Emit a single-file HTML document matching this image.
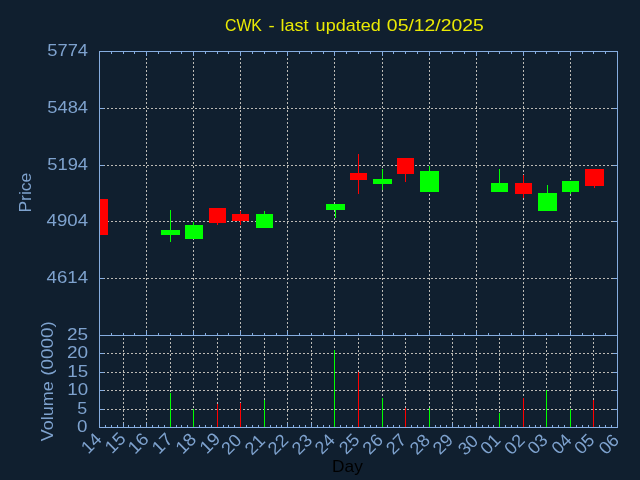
<!DOCTYPE html>
<html><head><meta charset="utf-8"><title>CWK</title>
<style>html,body{margin:0;padding:0;background:#101f2f;width:640px;height:480px;overflow:hidden}svg{display:block}</style>
</head><body>
<svg width="640" height="480" viewBox="0 0 640 480">
<rect x="0" y="0" width="640" height="480" fill="#101f2f"/>
<g stroke="#bcbab5" stroke-width="1" stroke-dasharray="2 2" shape-rendering="crispEdges"><line x1="146.5" y1="336" x2="146.5" y2="51"/><line x1="193.5" y1="336" x2="193.5" y2="51"/><line x1="240.5" y1="336" x2="240.5" y2="51"/><line x1="287.5" y1="336" x2="287.5" y2="51"/><line x1="334.5" y1="336" x2="334.5" y2="51"/><line x1="382.5" y1="336" x2="382.5" y2="51"/><line x1="429.5" y1="336" x2="429.5" y2="51"/><line x1="476.5" y1="336" x2="476.5" y2="51"/><line x1="523.5" y1="336" x2="523.5" y2="51"/><line x1="570.5" y1="336" x2="570.5" y2="51"/><line x1="99" y1="108.5" x2="617" y2="108.5"/><line x1="99" y1="165.5" x2="617" y2="165.5"/><line x1="99" y1="221.5" x2="617" y2="221.5"/><line x1="99" y1="278.5" x2="617" y2="278.5"/><line x1="123.5" y1="428" x2="123.5" y2="335"/><line x1="146.5" y1="428" x2="146.5" y2="335"/><line x1="170.5" y1="428" x2="170.5" y2="335"/><line x1="193.5" y1="428" x2="193.5" y2="335"/><line x1="217.5" y1="428" x2="217.5" y2="335"/><line x1="240.5" y1="428" x2="240.5" y2="335"/><line x1="264.5" y1="428" x2="264.5" y2="335"/><line x1="287.5" y1="428" x2="287.5" y2="335"/><line x1="311.5" y1="428" x2="311.5" y2="335"/><line x1="334.5" y1="428" x2="334.5" y2="335"/><line x1="358.5" y1="428" x2="358.5" y2="335"/><line x1="382.5" y1="428" x2="382.5" y2="335"/><line x1="405.5" y1="428" x2="405.5" y2="335"/><line x1="429.5" y1="428" x2="429.5" y2="335"/><line x1="452.5" y1="428" x2="452.5" y2="335"/><line x1="476.5" y1="428" x2="476.5" y2="335"/><line x1="499.5" y1="428" x2="499.5" y2="335"/><line x1="523.5" y1="428" x2="523.5" y2="335"/><line x1="546.5" y1="428" x2="546.5" y2="335"/><line x1="570.5" y1="428" x2="570.5" y2="335"/><line x1="593.5" y1="428" x2="593.5" y2="335"/><line x1="99" y1="353.5" x2="617" y2="353.5"/><line x1="99" y1="372.5" x2="617" y2="372.5"/><line x1="99" y1="390.5" x2="617" y2="390.5"/><line x1="99" y1="409.5" x2="617" y2="409.5"/></g>
<g stroke="#86ade0" stroke-width="1" shape-rendering="crispEdges"><rect x="99.5" y="51.5" width="518" height="376" fill="none"/><line x1="99" y1="335.5" x2="618" y2="335.5"/><line x1="111.5" y1="52" x2="111.5" y2="54"/><line x1="111.5" y1="335" x2="111.5" y2="333"/><line x1="123.5" y1="52" x2="123.5" y2="54"/><line x1="123.5" y1="335" x2="123.5" y2="333"/><line x1="134.5" y1="52" x2="134.5" y2="54"/><line x1="134.5" y1="335" x2="134.5" y2="333"/><line x1="146.5" y1="52" x2="146.5" y2="56"/><line x1="146.5" y1="335" x2="146.5" y2="331"/><line x1="158.5" y1="52" x2="158.5" y2="54"/><line x1="158.5" y1="335" x2="158.5" y2="333"/><line x1="170.5" y1="52" x2="170.5" y2="54"/><line x1="170.5" y1="335" x2="170.5" y2="333"/><line x1="181.5" y1="52" x2="181.5" y2="54"/><line x1="181.5" y1="335" x2="181.5" y2="333"/><line x1="193.5" y1="52" x2="193.5" y2="56"/><line x1="193.5" y1="335" x2="193.5" y2="331"/><line x1="205.5" y1="52" x2="205.5" y2="54"/><line x1="205.5" y1="335" x2="205.5" y2="333"/><line x1="217.5" y1="52" x2="217.5" y2="54"/><line x1="217.5" y1="335" x2="217.5" y2="333"/><line x1="228.5" y1="52" x2="228.5" y2="54"/><line x1="228.5" y1="335" x2="228.5" y2="333"/><line x1="240.5" y1="52" x2="240.5" y2="56"/><line x1="240.5" y1="335" x2="240.5" y2="331"/><line x1="252.5" y1="52" x2="252.5" y2="54"/><line x1="252.5" y1="335" x2="252.5" y2="333"/><line x1="264.5" y1="52" x2="264.5" y2="54"/><line x1="264.5" y1="335" x2="264.5" y2="333"/><line x1="276.5" y1="52" x2="276.5" y2="54"/><line x1="276.5" y1="335" x2="276.5" y2="333"/><line x1="287.5" y1="52" x2="287.5" y2="56"/><line x1="287.5" y1="335" x2="287.5" y2="331"/><line x1="299.5" y1="52" x2="299.5" y2="54"/><line x1="299.5" y1="335" x2="299.5" y2="333"/><line x1="311.5" y1="52" x2="311.5" y2="54"/><line x1="311.5" y1="335" x2="311.5" y2="333"/><line x1="323.5" y1="52" x2="323.5" y2="54"/><line x1="323.5" y1="335" x2="323.5" y2="333"/><line x1="334.5" y1="52" x2="334.5" y2="56"/><line x1="334.5" y1="335" x2="334.5" y2="331"/><line x1="346.5" y1="52" x2="346.5" y2="54"/><line x1="346.5" y1="335" x2="346.5" y2="333"/><line x1="358.5" y1="52" x2="358.5" y2="54"/><line x1="358.5" y1="335" x2="358.5" y2="333"/><line x1="370.5" y1="52" x2="370.5" y2="54"/><line x1="370.5" y1="335" x2="370.5" y2="333"/><line x1="382.5" y1="52" x2="382.5" y2="56"/><line x1="382.5" y1="335" x2="382.5" y2="331"/><line x1="393.5" y1="52" x2="393.5" y2="54"/><line x1="393.5" y1="335" x2="393.5" y2="333"/><line x1="405.5" y1="52" x2="405.5" y2="54"/><line x1="405.5" y1="335" x2="405.5" y2="333"/><line x1="417.5" y1="52" x2="417.5" y2="54"/><line x1="417.5" y1="335" x2="417.5" y2="333"/><line x1="429.5" y1="52" x2="429.5" y2="56"/><line x1="429.5" y1="335" x2="429.5" y2="331"/><line x1="440.5" y1="52" x2="440.5" y2="54"/><line x1="440.5" y1="335" x2="440.5" y2="333"/><line x1="452.5" y1="52" x2="452.5" y2="54"/><line x1="452.5" y1="335" x2="452.5" y2="333"/><line x1="464.5" y1="52" x2="464.5" y2="54"/><line x1="464.5" y1="335" x2="464.5" y2="333"/><line x1="476.5" y1="52" x2="476.5" y2="56"/><line x1="476.5" y1="335" x2="476.5" y2="331"/><line x1="488.5" y1="52" x2="488.5" y2="54"/><line x1="488.5" y1="335" x2="488.5" y2="333"/><line x1="499.5" y1="52" x2="499.5" y2="54"/><line x1="499.5" y1="335" x2="499.5" y2="333"/><line x1="511.5" y1="52" x2="511.5" y2="54"/><line x1="511.5" y1="335" x2="511.5" y2="333"/><line x1="523.5" y1="52" x2="523.5" y2="56"/><line x1="523.5" y1="335" x2="523.5" y2="331"/><line x1="535.5" y1="52" x2="535.5" y2="54"/><line x1="535.5" y1="335" x2="535.5" y2="333"/><line x1="546.5" y1="52" x2="546.5" y2="54"/><line x1="546.5" y1="335" x2="546.5" y2="333"/><line x1="558.5" y1="52" x2="558.5" y2="54"/><line x1="558.5" y1="335" x2="558.5" y2="333"/><line x1="570.5" y1="52" x2="570.5" y2="56"/><line x1="570.5" y1="335" x2="570.5" y2="331"/><line x1="582.5" y1="52" x2="582.5" y2="54"/><line x1="582.5" y1="335" x2="582.5" y2="333"/><line x1="593.5" y1="52" x2="593.5" y2="54"/><line x1="593.5" y1="335" x2="593.5" y2="333"/><line x1="605.5" y1="52" x2="605.5" y2="54"/><line x1="605.5" y1="335" x2="605.5" y2="333"/><line x1="105.5" y1="427" x2="105.5" y2="425"/><line x1="111.5" y1="427" x2="111.5" y2="425"/><line x1="117.5" y1="427" x2="117.5" y2="425"/><line x1="123.5" y1="427" x2="123.5" y2="423"/><line x1="128.5" y1="427" x2="128.5" y2="425"/><line x1="134.5" y1="427" x2="134.5" y2="425"/><line x1="140.5" y1="427" x2="140.5" y2="425"/><line x1="146.5" y1="427" x2="146.5" y2="423"/><line x1="152.5" y1="427" x2="152.5" y2="425"/><line x1="158.5" y1="427" x2="158.5" y2="425"/><line x1="164.5" y1="427" x2="164.5" y2="425"/><line x1="170.5" y1="427" x2="170.5" y2="423"/><line x1="176.5" y1="427" x2="176.5" y2="425"/><line x1="181.5" y1="427" x2="181.5" y2="425"/><line x1="187.5" y1="427" x2="187.5" y2="425"/><line x1="193.5" y1="427" x2="193.5" y2="423"/><line x1="199.5" y1="427" x2="199.5" y2="425"/><line x1="205.5" y1="427" x2="205.5" y2="425"/><line x1="211.5" y1="427" x2="211.5" y2="425"/><line x1="217.5" y1="427" x2="217.5" y2="423"/><line x1="223.5" y1="427" x2="223.5" y2="425"/><line x1="228.5" y1="427" x2="228.5" y2="425"/><line x1="234.5" y1="427" x2="234.5" y2="425"/><line x1="240.5" y1="427" x2="240.5" y2="423"/><line x1="246.5" y1="427" x2="246.5" y2="425"/><line x1="252.5" y1="427" x2="252.5" y2="425"/><line x1="258.5" y1="427" x2="258.5" y2="425"/><line x1="264.5" y1="427" x2="264.5" y2="423"/><line x1="270.5" y1="427" x2="270.5" y2="425"/><line x1="276.5" y1="427" x2="276.5" y2="425"/><line x1="281.5" y1="427" x2="281.5" y2="425"/><line x1="287.5" y1="427" x2="287.5" y2="423"/><line x1="293.5" y1="427" x2="293.5" y2="425"/><line x1="299.5" y1="427" x2="299.5" y2="425"/><line x1="305.5" y1="427" x2="305.5" y2="425"/><line x1="311.5" y1="427" x2="311.5" y2="423"/><line x1="317.5" y1="427" x2="317.5" y2="425"/><line x1="323.5" y1="427" x2="323.5" y2="425"/><line x1="329.5" y1="427" x2="329.5" y2="425"/><line x1="334.5" y1="427" x2="334.5" y2="423"/><line x1="340.5" y1="427" x2="340.5" y2="425"/><line x1="346.5" y1="427" x2="346.5" y2="425"/><line x1="352.5" y1="427" x2="352.5" y2="425"/><line x1="358.5" y1="427" x2="358.5" y2="423"/><line x1="364.5" y1="427" x2="364.5" y2="425"/><line x1="370.5" y1="427" x2="370.5" y2="425"/><line x1="376.5" y1="427" x2="376.5" y2="425"/><line x1="382.5" y1="427" x2="382.5" y2="423"/><line x1="387.5" y1="427" x2="387.5" y2="425"/><line x1="393.5" y1="427" x2="393.5" y2="425"/><line x1="399.5" y1="427" x2="399.5" y2="425"/><line x1="405.5" y1="427" x2="405.5" y2="423"/><line x1="411.5" y1="427" x2="411.5" y2="425"/><line x1="417.5" y1="427" x2="417.5" y2="425"/><line x1="423.5" y1="427" x2="423.5" y2="425"/><line x1="429.5" y1="427" x2="429.5" y2="423"/><line x1="435.5" y1="427" x2="435.5" y2="425"/><line x1="440.5" y1="427" x2="440.5" y2="425"/><line x1="446.5" y1="427" x2="446.5" y2="425"/><line x1="452.5" y1="427" x2="452.5" y2="423"/><line x1="458.5" y1="427" x2="458.5" y2="425"/><line x1="464.5" y1="427" x2="464.5" y2="425"/><line x1="470.5" y1="427" x2="470.5" y2="425"/><line x1="476.5" y1="427" x2="476.5" y2="423"/><line x1="482.5" y1="427" x2="482.5" y2="425"/><line x1="488.5" y1="427" x2="488.5" y2="425"/><line x1="493.5" y1="427" x2="493.5" y2="425"/><line x1="499.5" y1="427" x2="499.5" y2="423"/><line x1="505.5" y1="427" x2="505.5" y2="425"/><line x1="511.5" y1="427" x2="511.5" y2="425"/><line x1="517.5" y1="427" x2="517.5" y2="425"/><line x1="523.5" y1="427" x2="523.5" y2="423"/><line x1="529.5" y1="427" x2="529.5" y2="425"/><line x1="535.5" y1="427" x2="535.5" y2="425"/><line x1="540.5" y1="427" x2="540.5" y2="425"/><line x1="546.5" y1="427" x2="546.5" y2="423"/><line x1="552.5" y1="427" x2="552.5" y2="425"/><line x1="558.5" y1="427" x2="558.5" y2="425"/><line x1="564.5" y1="427" x2="564.5" y2="425"/><line x1="570.5" y1="427" x2="570.5" y2="423"/><line x1="576.5" y1="427" x2="576.5" y2="425"/><line x1="582.5" y1="427" x2="582.5" y2="425"/><line x1="588.5" y1="427" x2="588.5" y2="425"/><line x1="593.5" y1="427" x2="593.5" y2="423"/><line x1="599.5" y1="427" x2="599.5" y2="425"/><line x1="605.5" y1="427" x2="605.5" y2="425"/><line x1="611.5" y1="427" x2="611.5" y2="425"/><line x1="100" y1="108.5" x2="104" y2="108.5"/><line x1="617" y1="108.5" x2="613" y2="108.5"/><line x1="100" y1="165.5" x2="104" y2="165.5"/><line x1="617" y1="165.5" x2="613" y2="165.5"/><line x1="100" y1="221.5" x2="104" y2="221.5"/><line x1="617" y1="221.5" x2="613" y2="221.5"/><line x1="100" y1="278.5" x2="104" y2="278.5"/><line x1="617" y1="278.5" x2="613" y2="278.5"/><line x1="100" y1="353.5" x2="104" y2="353.5"/><line x1="617" y1="353.5" x2="613" y2="353.5"/><line x1="100" y1="372.5" x2="104" y2="372.5"/><line x1="617" y1="372.5" x2="613" y2="372.5"/><line x1="100" y1="390.5" x2="104" y2="390.5"/><line x1="617" y1="390.5" x2="613" y2="390.5"/><line x1="100" y1="409.5" x2="104" y2="409.5"/><line x1="617" y1="409.5" x2="613" y2="409.5"/></g>
<g shape-rendering="crispEdges"><rect x="100" y="199" width="8" height="36" fill="#ff0000"/><rect x="170" y="210" width="1" height="32" fill="#00ff00"/><rect x="161" y="230" width="19" height="5" fill="#00ff00"/><rect x="193" y="222" width="1" height="17" fill="#00ff00"/><rect x="185" y="225" width="18" height="14" fill="#00ff00"/><rect x="217" y="208" width="1" height="17" fill="#ff0000"/><rect x="209" y="208" width="17" height="15" fill="#ff0000"/><rect x="240" y="211" width="1" height="14" fill="#ff0000"/><rect x="232" y="214" width="17" height="7" fill="#ff0000"/><rect x="264" y="211" width="1" height="17" fill="#00ff00"/><rect x="256" y="214" width="17" height="14" fill="#00ff00"/><rect x="335" y="204" width="1" height="14" fill="#00ff00"/><rect x="326" y="204" width="19" height="6" fill="#00ff00"/><rect x="358" y="154" width="1" height="40" fill="#ff0000"/><rect x="350" y="173" width="17" height="7" fill="#ff0000"/><rect x="382" y="169" width="1" height="21" fill="#00ff00"/><rect x="373" y="179" width="19" height="5" fill="#00ff00"/><rect x="405" y="158" width="1" height="24" fill="#ff0000"/><rect x="397" y="158" width="17" height="16" fill="#ff0000"/><rect x="429" y="166" width="1" height="26" fill="#00ff00"/><rect x="420" y="171" width="19" height="21" fill="#00ff00"/><rect x="499" y="169" width="1" height="23" fill="#00ff00"/><rect x="491" y="183" width="17" height="9" fill="#00ff00"/><rect x="523" y="175" width="1" height="23" fill="#ff0000"/><rect x="515" y="183" width="17" height="11" fill="#ff0000"/><rect x="547" y="185" width="1" height="26" fill="#00ff00"/><rect x="538" y="193" width="19" height="18" fill="#00ff00"/><rect x="570" y="181" width="1" height="13" fill="#00ff00"/><rect x="562" y="181" width="17" height="11" fill="#00ff00"/><rect x="594" y="169" width="1" height="19" fill="#ff0000"/><rect x="585" y="169" width="19" height="17" fill="#ff0000"/></g>
<g shape-rendering="crispEdges"><rect x="170" y="393" width="1" height="34" fill="#00ff00"/><rect x="193" y="409" width="1" height="18" fill="#00ff00"/><rect x="217" y="404" width="1" height="23" fill="#ff0000"/><rect x="240" y="403" width="1" height="24" fill="#ff0000"/><rect x="264" y="400" width="1" height="27" fill="#00ff00"/><rect x="334" y="350" width="1" height="77" fill="#00ff00"/><rect x="358" y="372" width="1" height="55" fill="#ff0000"/><rect x="382" y="398" width="1" height="29" fill="#00ff00"/><rect x="405" y="408" width="1" height="19" fill="#ff0000"/><rect x="429" y="408" width="1" height="19" fill="#00ff00"/><rect x="499" y="413" width="1" height="14" fill="#00ff00"/><rect x="523" y="398" width="1" height="29" fill="#ff0000"/><rect x="546" y="390" width="1" height="37" fill="#00ff00"/><rect x="570" y="409" width="1" height="18" fill="#00ff00"/><rect x="593" y="400" width="1" height="27" fill="#ff0000"/></g>
<g font-family="Liberation Sans, sans-serif" opacity="0.999"><text x="224.96" y="30.80" font-size="17" fill="#ebeb05" textLength="37.00" lengthAdjust="spacingAndGlyphs">CWK</text><text x="268.51" y="30.80" font-size="17" fill="#ebeb05" textLength="6.20" lengthAdjust="spacingAndGlyphs">-</text><text x="280.44" y="30.80" font-size="17" fill="#ebeb05" textLength="28.08" lengthAdjust="spacingAndGlyphs">last</text><text x="315.64" y="30.80" font-size="17" fill="#ebeb05" textLength="65.03" lengthAdjust="spacingAndGlyphs">updated</text><text x="386.87" y="30.80" font-size="17" fill="#ebeb05" textLength="97.00" lengthAdjust="spacingAndGlyphs">05/12/2025</text><text x="47.27" y="56.00" font-size="17" fill="#7fa3cf" textLength="40.77" lengthAdjust="spacingAndGlyphs">5774</text><text x="47.27" y="113.00" font-size="17" fill="#7fa3cf" textLength="40.77" lengthAdjust="spacingAndGlyphs">5484</text><text x="47.27" y="170.00" font-size="17" fill="#7fa3cf" textLength="40.77" lengthAdjust="spacingAndGlyphs">5194</text><text x="46.63" y="226.00" font-size="17" fill="#7fa3cf" textLength="41.42" lengthAdjust="spacingAndGlyphs">4904</text><text x="46.63" y="283.00" font-size="17" fill="#7fa3cf" textLength="41.42" lengthAdjust="spacingAndGlyphs">4614</text><text x="66.95" y="340.00" font-size="17" fill="#7fa3cf" textLength="21.16" lengthAdjust="spacingAndGlyphs">25</text><text x="66.95" y="358.00" font-size="17" fill="#7fa3cf" textLength="21.16" lengthAdjust="spacingAndGlyphs">20</text><text x="67.25" y="377.00" font-size="17" fill="#7fa3cf" textLength="20.84" lengthAdjust="spacingAndGlyphs">15</text><text x="67.25" y="395.00" font-size="17" fill="#7fa3cf" textLength="20.84" lengthAdjust="spacingAndGlyphs">10</text><text x="77.19" y="414.00" font-size="17" fill="#7fa3cf" textLength="9.94" lengthAdjust="spacingAndGlyphs">5</text><text x="76.95" y="432.00" font-size="17" fill="#7fa3cf" textLength="10.43" lengthAdjust="spacingAndGlyphs">0</text><text transform="translate(102.70,440.20) rotate(-45)" x="0" y="0" font-size="17.8" fill="#7fa3cf" text-anchor="end" textLength="20.58" lengthAdjust="spacingAndGlyphs">14</text><text transform="translate(126.80,439.75) rotate(-45)" x="0" y="0" font-size="17.8" fill="#7fa3cf" text-anchor="end" textLength="20.79" lengthAdjust="spacingAndGlyphs">15</text><text transform="translate(149.79,440.25) rotate(-45)" x="0" y="0" font-size="17.8" fill="#7fa3cf" text-anchor="end" textLength="20.79" lengthAdjust="spacingAndGlyphs">16</text><text transform="translate(173.84,440.20) rotate(-45)" x="0" y="0" font-size="17.8" fill="#7fa3cf" text-anchor="end" textLength="21.00" lengthAdjust="spacingAndGlyphs">17</text><text transform="translate(197.38,440.30) rotate(-45)" x="0" y="0" font-size="17.8" fill="#7fa3cf" text-anchor="end" textLength="20.79" lengthAdjust="spacingAndGlyphs">18</text><text transform="translate(221.53,439.90) rotate(-45)" x="0" y="0" font-size="17.8" fill="#7fa3cf" text-anchor="end" textLength="21.00" lengthAdjust="spacingAndGlyphs">19</text><text transform="translate(242.67,441.40) rotate(-45)" x="0" y="0" font-size="17.8" fill="#7fa3cf" text-anchor="end" textLength="20.17" lengthAdjust="spacingAndGlyphs">20</text><text transform="translate(266.32,441.60) rotate(-45)" x="0" y="0" font-size="17.8" fill="#7fa3cf" text-anchor="end" textLength="20.37" lengthAdjust="spacingAndGlyphs">21</text><text transform="translate(289.41,441.30) rotate(-45)" x="0" y="0" font-size="17.8" fill="#7fa3cf" text-anchor="end" textLength="20.37" lengthAdjust="spacingAndGlyphs">22</text><text transform="translate(313.26,441.40) rotate(-45)" x="0" y="0" font-size="17.8" fill="#7fa3cf" text-anchor="end" textLength="20.17" lengthAdjust="spacingAndGlyphs">23</text><text transform="translate(336.05,441.25) rotate(-45)" x="0" y="0" font-size="17.8" fill="#7fa3cf" text-anchor="end" textLength="19.98" lengthAdjust="spacingAndGlyphs">24</text><text transform="translate(360.50,441.00) rotate(-45)" x="0" y="0" font-size="17.8" fill="#7fa3cf" text-anchor="end" textLength="20.17" lengthAdjust="spacingAndGlyphs">25</text><text transform="translate(384.10,441.25) rotate(-45)" x="0" y="0" font-size="17.8" fill="#7fa3cf" text-anchor="end" textLength="20.17" lengthAdjust="spacingAndGlyphs">26</text><text transform="translate(407.54,441.00) rotate(-45)" x="0" y="0" font-size="17.8" fill="#7fa3cf" text-anchor="end" textLength="20.37" lengthAdjust="spacingAndGlyphs">27</text><text transform="translate(431.14,441.40) rotate(-45)" x="0" y="0" font-size="17.8" fill="#7fa3cf" text-anchor="end" textLength="20.17" lengthAdjust="spacingAndGlyphs">28</text><text transform="translate(454.28,441.10) rotate(-45)" x="0" y="0" font-size="17.8" fill="#7fa3cf" text-anchor="end" textLength="20.37" lengthAdjust="spacingAndGlyphs">29</text><text transform="translate(479.28,442.20) rotate(-45)" x="0" y="0" font-size="17.8" fill="#7fa3cf" text-anchor="end" textLength="19.98" lengthAdjust="spacingAndGlyphs">30</text><text transform="translate(501.72,441.25) rotate(-45)" x="0" y="0" font-size="17.8" fill="#7fa3cf" text-anchor="end" textLength="20.17" lengthAdjust="spacingAndGlyphs">01</text><text transform="translate(525.82,441.50) rotate(-45)" x="0" y="0" font-size="17.8" fill="#7fa3cf" text-anchor="end" textLength="20.17" lengthAdjust="spacingAndGlyphs">02</text><text transform="translate(548.91,441.20) rotate(-45)" x="0" y="0" font-size="17.8" fill="#7fa3cf" text-anchor="end" textLength="19.98" lengthAdjust="spacingAndGlyphs">03</text><text transform="translate(572.76,441.15) rotate(-45)" x="0" y="0" font-size="17.8" fill="#7fa3cf" text-anchor="end" textLength="19.79" lengthAdjust="spacingAndGlyphs">04</text><text transform="translate(595.60,441.15) rotate(-45)" x="0" y="0" font-size="17.8" fill="#7fa3cf" text-anchor="end" textLength="19.98" lengthAdjust="spacingAndGlyphs">05</text><text transform="translate(620.00,441.40) rotate(-45)" x="0" y="0" font-size="17.8" fill="#7fa3cf" text-anchor="end" textLength="19.98" lengthAdjust="spacingAndGlyphs">06</text><text x="332.12" y="471.90" font-size="17" fill="#000000" textLength="30.73" lengthAdjust="spacingAndGlyphs">Day</text><g transform="translate(31,0) rotate(-90)"><text x="-212.60" y="0.00" font-size="17" fill="#7fa3cf" textLength="39.95" lengthAdjust="spacingAndGlyphs">Price</text></g><g transform="translate(53,0) rotate(-90)"><text x="-441.18" y="0.00" font-size="17" fill="#7fa3cf" textLength="59.79" lengthAdjust="spacingAndGlyphs">Volume</text><text x="-375.73" y="0.00" font-size="17" fill="#7fa3cf" textLength="54.47" lengthAdjust="spacingAndGlyphs">(0000)</text></g></g>
</svg>
</body></html>
